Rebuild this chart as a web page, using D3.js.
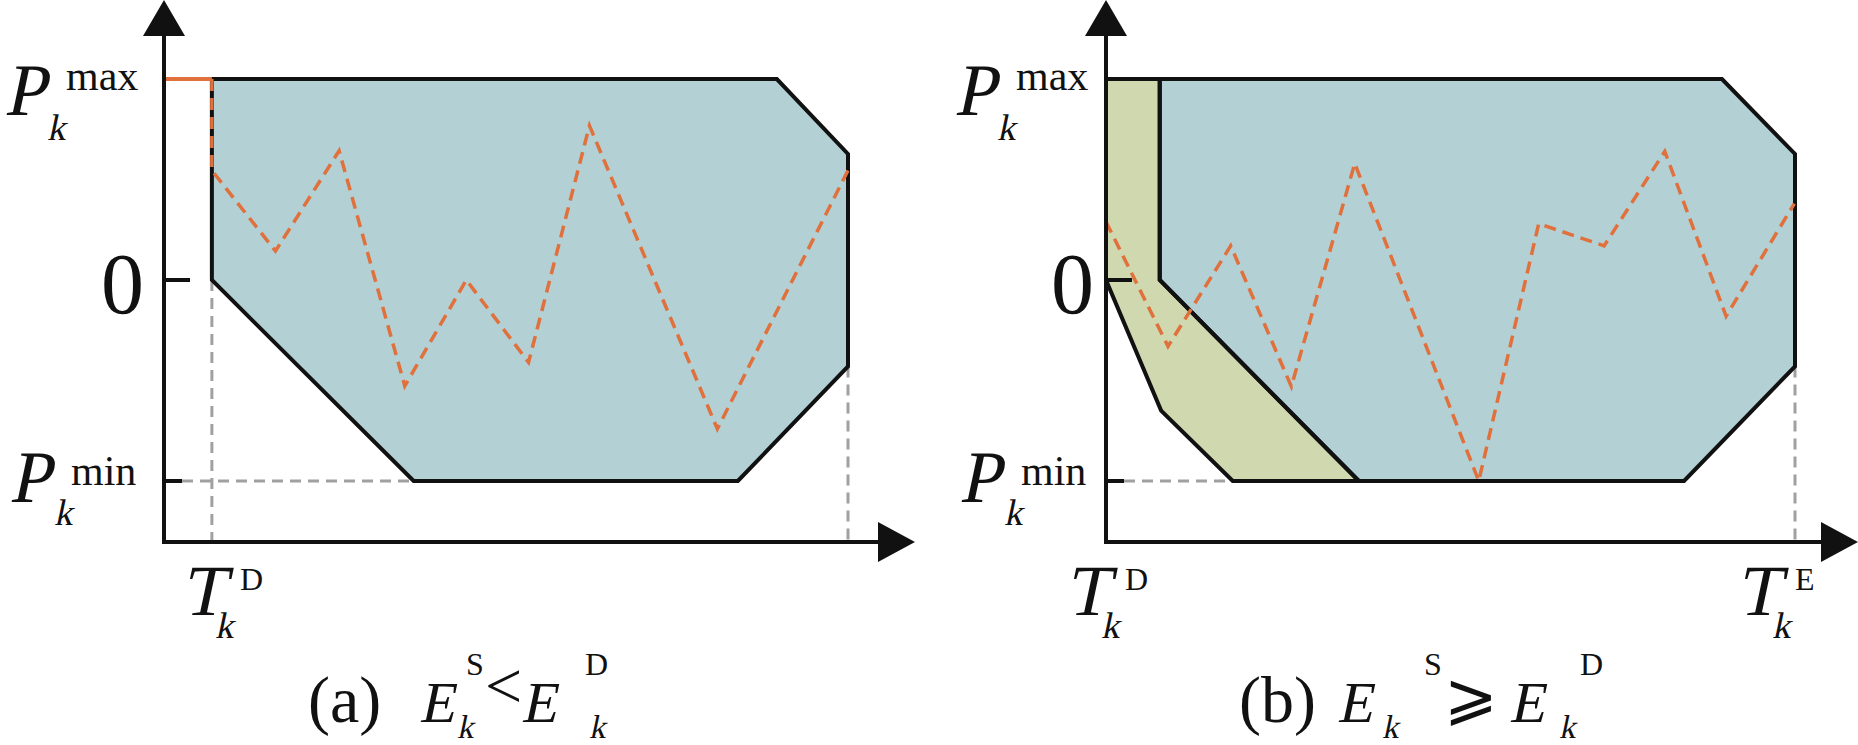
<!DOCTYPE html>
<html>
<head>
<meta charset="utf-8">
<script src="https://cdn.jsdelivr.net/npm/d3@7/dist/d3.min.js"></script>
<style>
  html, body { margin: 0; padding: 0; background: #ffffff; }
  svg { display: block; }
</style>
</head>
<body>
<script>
// ---------------- data ----------------
// power levels (normalised): Pmin, 0, Pmax
const yLevels = [-1, 0, 1];
const yLevelNames = ["min", "zero", "max"];

// panel (a): feasible region (time in % of horizon, power normalised)
const aRegionT = [7.0, 89.6, 100, 100, 83.9, 36.5, 7.0];
const aRegionP = [1, 1, 0.627, -0.43, -1, -1, 0];
// panel (a): charging plan (orange dashed)
const aPlanT = [7.0, 7.0, 16.3, 25.6, 35.2, 44.2, 53.3, 62.2, 80.9, 100];
const aPlanP = [1, 0.545, 0.144, 0.643, -0.527, 0, -0.41, 0.768, -0.741, 0.545];
const aTD = 7.0;

// panel (b): feasible region
const bRegionT = [7.8, 89.4, 100, 100, 83.9, 36.7, 7.8];
const bRegionP = [1, 1, 0.627, -0.43, -1, -1, 0];
// panel (b): extra (surplus energy) region
const bSurplusT = [0, 7.8, 7.8, 36.7, 18.4, 8.0, 0];
const bSurplusP = [1, 1, 0, -1, -1, -0.65, 0];
// panel (b): charging plan
const bPlanT = [0, 9.0, 18.1, 26.9, 36.1, 54.1, 62.8, 72.3, 81.1, 90.0, 99.9];
const bPlanP = [0.29, -0.33, 0.17, -0.53, 0.58, -1.0, 0.28, 0.17, 0.64, -0.18, 0.38];
const bTE = 100;

// ---------------- layout ----------------
const W = 1858, H = 745;
const axisY = 542;          // x-axis position
const blue = "#b3d1d4", green = "#cfd8ae", orange = "#e0703c", gray = "#a0a0a0", ink = "#111";
const SERIF = "'Liberation Serif'";

const svg = d3.select("body").append("svg").attr("width", W).attr("height", H);

const y = d3.scaleLinear().domain([-1, 1]).range([481, 79]);
const xa = d3.scaleLinear().domain([0, 100]).range([164, 848]);
const xb = d3.scaleLinear().domain([0, 100]).range([1106, 1795]);

function pts(T, P, x) { return T.map((t, i) => [x(t), y(P[i])]); }
const line = d3.line();

function dashed(g, x1, y1, x2, y2, color, w, dash) {
  g.append("line").attr("x1", x1).attr("y1", y1).attr("x2", x2).attr("y2", y2)
    .attr("stroke", color).attr("stroke-width", w).attr("stroke-dasharray", dash);
}

function axes(g, x, tipX) {
  const x0 = x(0);
  g.append("line").attr("x1", x0).attr("y1", axisY + 2).attr("x2", x0).attr("y2", 30)
    .attr("stroke", ink).attr("stroke-width", 4);
  g.append("path").attr("d", `M${x0 - 21},36 L${x0 + 21},36 L${x0},0 Z`).attr("fill", ink);
  g.append("line").attr("x1", x0 - 2).attr("y1", axisY).attr("x2", tipX - 32).attr("y2", axisY)
    .attr("stroke", ink).attr("stroke-width", 4);
  g.append("path").attr("d", `M${tipX - 37},${axisY - 20} L${tipX - 37},${axisY + 20} L${tipX},${axisY} Z`).attr("fill", ink);
  // ticks at 0 and Pmin
  g.append("line").attr("x1", x0).attr("y1", y(0)).attr("x2", x0 + 26).attr("y2", y(0))
    .attr("stroke", ink).attr("stroke-width", 4);
  g.append("line").attr("x1", x0).attr("y1", y(-1)).attr("x2", x0 + 18).attr("y2", y(-1))
    .attr("stroke", ink).attr("stroke-width", 4);
}

// upright serif text
function txt(g, s, x, yy, size, family) {
  return g.append("text").attr("x", x).attr("y", yy)
    .style("font-size", size + "px").style("font-family", family || SERIF)
    .style("fill", ink).text(s);
}
// italic (slanted serif) text
function itxt(g, s, x, yy, size) {
  return g.append("text").attr("transform", `translate(${x},${yy}) skewX(-12)`)
    .style("font-size", size + "px").style("font-family", SERIF)
    .style("fill", ink).text(s);
}

function yLabels(g, dx) {
  // Pmax
  itxt(g, "P", 4 + dx, 115, 74);
  txt(g, "max", 66 + dx, 90, 42);
  itxt(g, "k", 47 + dx, 140, 37);
  // 0
  txt(g, "0", 101 + dx, 313, 86);
  // Pmin
  itxt(g, "P", 9 + dx, 502, 74);
  txt(g, "min", 71 + dx, 485, 42);
  itxt(g, "k", 54 + dx, 525, 37);
}

// ---------------- panel (a) ----------------
const ga = svg.append("g");
ga.append("path").attr("d", line(pts(aRegionT, aRegionP, xa)) + "Z").attr("fill", blue);
// gray guide lines
dashed(ga, xa(aTD), y(0), xa(aTD), axisY, gray, 3, "11,7");
dashed(ga, xa(100), y(-0.43), xa(100), axisY, gray, 3, "11,7");
dashed(ga, xa(0) + 18, y(-1), xa(36.5), y(-1), gray, 3, "11,7");
ga.append("path").attr("d", line(pts(aRegionT, aRegionP, xa)) + "Z")
  .attr("fill", "none").attr("stroke", ink).attr("stroke-width", 4).attr("stroke-linejoin", "miter");
// orange: solid at Pmax before T_D, dashed plan after
ga.append("line").attr("x1", xa(0)).attr("y1", y(1)).attr("x2", xa(aTD)).attr("y2", y(1))
  .attr("stroke", orange).attr("stroke-width", 4);
ga.append("path").attr("d", line(pts(aPlanT, aPlanP, xa))).attr("fill", "none")
  .attr("stroke", orange).attr("stroke-width", 3.5).attr("stroke-dasharray", "12,7");
axes(ga, xa, 915);
yLabels(ga, 0);
// T_k^D
itxt(ga, "T", 181, 615, 72);
txt(ga, "D", 240, 590, 32);
itxt(ga, "k", 215, 638, 37);

// caption (a)
const cy = 722, cs = 675, ck = 738;
txt(ga, "(a)", 308, cy, 66);
itxt(ga, "E", 419, cy, 58);
txt(ga, "S", 466, cs, 32);
itxt(ga, "k", 457, ck, 33);
txt(ga, "<", 485, cy - 14, 66);
itxt(ga, "E", 521, cy, 58);
txt(ga, "D", 585, cs, 32);
itxt(ga, "k", 589, ck, 33);

// ---------------- panel (b) ----------------
const gb = svg.append("g");
gb.append("path").attr("d", line(pts(bSurplusT, bSurplusP, xb)) + "Z").attr("fill", green);
gb.append("path").attr("d", line(pts(bRegionT, bRegionP, xb)) + "Z").attr("fill", blue);
dashed(gb, xb(bTE), y(-0.43), xb(bTE), axisY, gray, 3, "11,7");
dashed(gb, xb(0) + 18, y(-1), xb(18.4), y(-1), gray, 3, "11,7");
gb.append("path").attr("d", line(pts(bSurplusT, bSurplusP, xb)) + "Z")
  .attr("fill", "none").attr("stroke", ink).attr("stroke-width", 4);
gb.append("path").attr("d", line(pts(bRegionT, bRegionP, xb)) + "Z")
  .attr("fill", "none").attr("stroke", ink).attr("stroke-width", 4);
gb.append("path").attr("d", line(pts(bPlanT, bPlanP, xb))).attr("fill", "none")
  .attr("stroke", orange).attr("stroke-width", 3.5).attr("stroke-dasharray", "12,7");
axes(gb, xb, 1858);
yLabels(gb, 950);
// T_k^D and T_k^E
itxt(gb, "T", 1065, 615, 72);
txt(gb, "D", 1125, 590, 32);
itxt(gb, "k", 1101, 638, 37);
itxt(gb, "T", 1736, 615, 72);
txt(gb, "E", 1795, 590, 32);
itxt(gb, "k", 1772, 638, 37);

// caption (b)
txt(gb, "(b)", 1239, cy, 66);
itxt(gb, "E", 1337, cy, 58);
txt(gb, "S", 1424, cs, 32);
itxt(gb, "k", 1382, ck, 33);
txt(gb, "\u2A7E", 1444, cy - 4, 64, "'DejaVu Sans'");
itxt(gb, "E", 1509, cy, 58);
txt(gb, "D", 1580, cs, 32);
itxt(gb, "k", 1559, ck, 33);
</script>
</body>
</html>
